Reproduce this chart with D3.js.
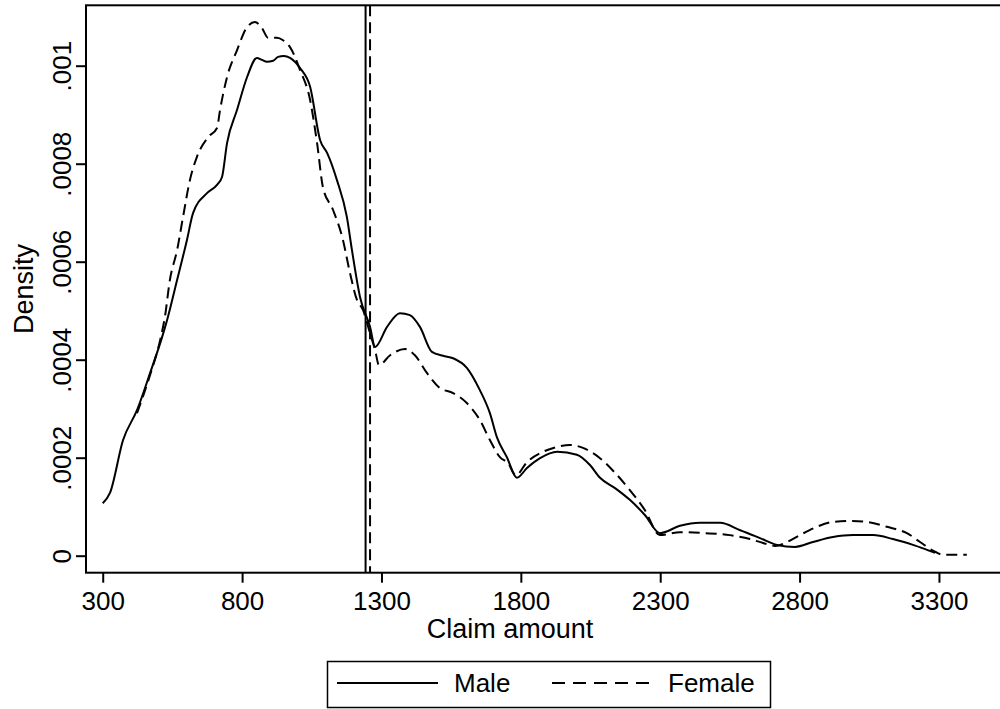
<!DOCTYPE html>
<html lang="en">
<head>
  <meta charset="UTF-8">
  <title>claim density</title>
  <script src="https://cdn.jsdelivr.net/npm/d3@7"></script>
  <style>
    body { margin: 0; background: #fff; }
    svg text { font-family: "Liberation Sans", Arial, Helvetica, sans-serif; fill: #000; }
  </style>
</head>
<body>
<script>
let width = 1000;
let height = 709;

// kernel density, male
let maleX = [300, 326, 373, 423, 470, 513, 531, 567, 602, 624, 674, 710, 728, 746, 782, 818, 853, 871, 889, 911, 929, 950, 972, 1008, 1044, 1080, 1105, 1140, 1176, 1194, 1223, 1259, 1277, 1320, 1366, 1402, 1438, 1481, 1521, 1557, 1607, 1653, 1689, 1714, 1750, 1786, 1822, 1869, 1930, 2001, 2048, 2084, 2138, 2191, 2245, 2299, 2371, 2443, 2515, 2587, 2658, 2719, 2784, 2848, 2920, 2992, 3064, 3135, 3207, 3257, 3286];
let maleY = [0.000107, 0.000128, 0.000236, 0.000297, 0.000373, 0.000446, 0.000481, 0.000563, 0.000644, 0.000699, 0.000740, 0.000757, 0.000773, 0.000842, 0.000910, 0.000977, 0.001016, 0.001012, 0.001008, 0.001010, 0.001018, 0.001020, 0.001016, 0.000995, 0.000957, 0.000848, 0.000822, 0.000767, 0.000691, 0.000624, 0.000528, 0.000467, 0.000426, 0.000467, 0.000495, 0.000491, 0.000467, 0.000416, 0.000408, 0.000403, 0.000383, 0.000338, 0.000291, 0.000242, 0.000201, 0.000159, 0.000179, 0.000199, 0.000212, 0.000206, 0.000185, 0.000159, 0.000138, 0.000114, 0.000083, 0.000046, 0.000061, 0.000067, 0.000067, 0.000052, 0.000036, 0.000022, 0.000018, 0.000028, 0.000038, 0.000042, 0.000042, 0.000034, 0.000022, 0.000012, 0.000006];

// kernel density, female
let femaleX = [423, 470, 506, 523, 541, 567, 588, 613, 638, 678, 710, 721, 746, 782, 818, 846, 871, 893, 925, 947, 972, 1008, 1044, 1069, 1090, 1126, 1162, 1187, 1212, 1234, 1259, 1277, 1291, 1331, 1384, 1420, 1463, 1510, 1557, 1607, 1653, 1689, 1725, 1754, 1782, 1822, 1879, 1930, 1976, 2023, 2084, 2138, 2191, 2245, 2299, 2371, 2460, 2550, 2622, 2669, 2712, 2755, 2801, 2862, 2920, 2981, 3042, 3113, 3185, 3232, 3286, 3314, 3364, 3400];
let femaleY = [0.000291, 0.000369, 0.000440, 0.000487, 0.000563, 0.000624, 0.000691, 0.000767, 0.000814, 0.000854, 0.000873, 0.000910, 0.000977, 0.001032, 0.001079, 0.001089, 0.001077, 0.001057, 0.001057, 0.001052, 0.001038, 0.000991, 0.000930, 0.000842, 0.000752, 0.000706, 0.000644, 0.000577, 0.000522, 0.000501, 0.000454, 0.000420, 0.000389, 0.000409, 0.000422, 0.000409, 0.000373, 0.000342, 0.000332, 0.000311, 0.000277, 0.000236, 0.000201, 0.000189, 0.000164, 0.000191, 0.000212, 0.000222, 0.000226, 0.000220, 0.000199, 0.000169, 0.000134, 0.000093, 0.000042, 0.000048, 0.000046, 0.000042, 0.000034, 0.000026, 0.000020, 0.000028, 0.000042, 0.000059, 0.000069, 0.000071, 0.000069, 0.000059, 0.000046, 0.000028, 0.000008, 0.000002, 0.000002, 0.000002];

// mean lines
let meanMale = 1243;
let meanFemale = 1259;

let xTicks = [300, 800, 1300, 1800, 2300, 2800, 3300];
let yTicks = [0, 0.0002, 0.0004, 0.0006, 0.0008, 0.001];
let yTickLabels = ['0', '.0002', '.0004', '.0006', '.0008', '.001'];
let legendLabels = ['Male', 'Female'];

let plotLeft = 86;
let plotRight = 1000;
let plotTop = 5.3;
let plotBottom = 572.7;
let dash = '11,6';

let svg = d3.select('body')
  .append('svg')
  .attr('width', width)
  .attr('height', height);

svg.append('rect')
  .attr('width', width)
  .attr('height', height)
  .attr('fill', '#fff');

let x = d3.scaleLinear()
  .domain([240, 3519])
  .range([plotLeft, plotRight]);

let y = d3.scaleLinear()
  .domain([-0.0000347, 0.0011233])
  .range([plotBottom, plotTop]);

let line = d3.line()
  .x(function (d) { return x(d[0]); })
  .y(function (d) { return y(d[1]); })
  .curve(d3.curveMonotoneX);

let maleData = maleX.map(function (v, i) { return [v, maleY[i]]; });
let femaleData = femaleX.map(function (v, i) { return [v, femaleY[i]]; });

svg.append('path')
  .datum(maleData)
  .attr('fill', 'none')
  .attr('stroke', '#000')
  .attr('stroke-width', 2)
  .attr('d', line);

svg.append('path')
  .datum(femaleData)
  .attr('fill', 'none')
  .attr('stroke', '#000')
  .attr('stroke-width', 2)
  .attr('stroke-dasharray', dash)
  .attr('d', line);

// vertical lines at the means
svg.append('line')
  .attr('x1', x(meanMale)).attr('x2', x(meanMale))
  .attr('y1', plotTop).attr('y2', plotBottom)
  .attr('stroke', '#000')
  .attr('stroke-width', 2);

svg.append('line')
  .attr('x1', x(meanFemale)).attr('x2', x(meanFemale))
  .attr('y1', plotTop).attr('y2', plotBottom)
  .attr('stroke', '#000')
  .attr('stroke-width', 2)
  .attr('stroke-dasharray', dash);

// plot region box
svg.append('rect')
  .attr('x', plotLeft)
  .attr('y', plotTop)
  .attr('width', plotRight - plotLeft + 10)
  .attr('height', plotBottom - plotTop)
  .attr('fill', 'none')
  .attr('stroke', '#000')
  .attr('stroke-width', 2);

let xAxis = d3.axisBottom(x)
  .tickValues(xTicks)
  .tickFormat(d3.format('d'))
  .tickSize(10)
  .tickPadding(9);

let gx = svg.append('g')
  .attr('transform', 'translate(0,' + plotBottom + ')')
  .call(xAxis);
gx.select('.domain').remove();
gx.selectAll('line').attr('stroke', '#000').attr('stroke-width', 2);
gx.selectAll('text').attr('font-size', 26).attr('fill', '#000');

let yAxis = d3.axisLeft(y)
  .tickValues(yTicks)
  .tickFormat(function (d, i) { return yTickLabels[i]; })
  .tickSize(10);

let gy = svg.append('g')
  .attr('transform', 'translate(' + plotLeft + ',0)')
  .call(yAxis);
gy.select('.domain').remove();
gy.selectAll('line').attr('stroke', '#000').attr('stroke-width', 2);
gy.selectAll('text')
  .attr('font-size', 26)
  .attr('fill', '#000')
  .attr('text-anchor', 'middle')
  .attr('transform', 'rotate(-90)')
  .attr('x', 0)
  .attr('y', -15)
  .attr('dy', 0);

svg.append('text')
  .attr('transform', 'translate(33,' + ((plotTop + plotBottom) / 2) + ') rotate(-90)')
  .attr('text-anchor', 'middle')
  .attr('font-size', 27)
  .text('Density');

svg.append('text')
  .attr('x', 510)
  .attr('y', 638)
  .attr('text-anchor', 'middle')
  .attr('font-size', 27)
  .text('Claim amount');

// legend
let legend = svg.append('g');
legend.append('rect')
  .attr('x', 327.5)
  .attr('y', 661.5)
  .attr('width', 443)
  .attr('height', 46)
  .attr('fill', '#fff')
  .attr('stroke', '#000')
  .attr('stroke-width', 1.5);

legend.append('line')
  .attr('x1', 337).attr('x2', 438)
  .attr('y1', 683).attr('y2', 683)
  .attr('stroke', '#000')
  .attr('stroke-width', 2);
legend.append('text')
  .attr('x', 454).attr('y', 692)
  .attr('font-size', 26)
  .text(legendLabels[0]);

legend.append('line')
  .attr('x1', 552).attr('x2', 650)
  .attr('y1', 683).attr('y2', 683)
  .attr('stroke', '#000')
  .attr('stroke-width', 2)
  .attr('stroke-dasharray', '13,8');
legend.append('text')
  .attr('x', 668).attr('y', 692)
  .attr('font-size', 26)
  .text(legendLabels[1]);
</script>
</body>
</html>
